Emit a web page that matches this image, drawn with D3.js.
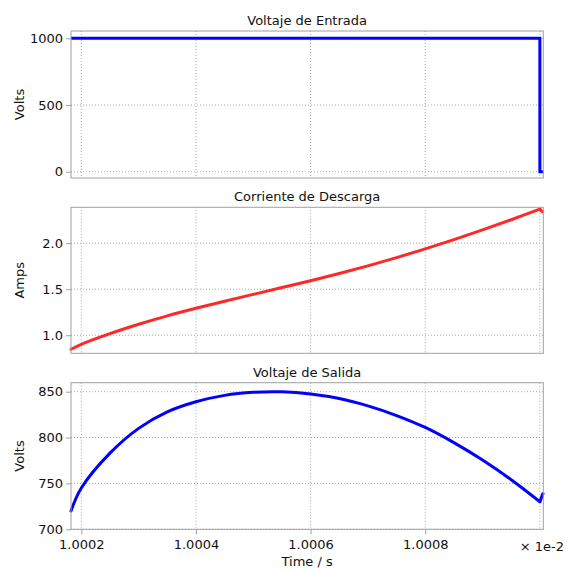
<!DOCTYPE html>
<html>
<head>
<meta charset="utf-8">
<script src="https://cdn.jsdelivr.net/npm/d3@7"></script>
<style>
  html, body { margin: 0; padding: 0; background: #fff; }
  svg { display: block; font-family: "DejaVu Sans", Verdana, sans-serif; }
</style>
</head>
<body>
<svg id="chart" width="567" height="570"></svg>
<script>
// ---- data (time in units of 1e-2 s) ----
const vinTime   = [1.000182, 1.0010, 1.0010, 1.001006];
const vinValues = [1000, 1000, 0, 0];

const time = [1.000182, 1.0002, 1.00025, 1.0003, 1.00035, 1.0004, 1.00045, 1.0005, 1.00055,
              1.0006, 1.00065, 1.0007, 1.00075, 1.0008, 1.00085, 1.0009, 1.00095, 1.0010, 1.001006];
const current = [0.848, 0.902, 1.017, 1.119, 1.211, 1.293, 1.370, 1.444, 1.518,
                 1.593, 1.671, 1.754, 1.843, 1.938, 2.039, 2.145, 2.255, 2.370, 2.33];
const vout = [720, 745, 783, 810, 828, 839, 846, 849.3, 849.8,
              847.5, 842.5, 834.5, 824, 811, 794.5, 775.5, 754, 730, 740];

const xTicks = [1.0002, 1.0004, 1.0006, 1.0008, 1.0010];
const xTickLabels = ["1.0002", "1.0004", "1.0006", "1.0008", ""];

const titles = ["Voltaje de Entrada", "Corriente de Descarga", "Voltaje de Salida"];
const yLabels = ["Volts", "Amps", "Volts"];
const yTicksList = [[0, 500, 1000], [1.0, 1.5, 2.0], [700, 750, 800, 850]];
const yDomains = [[-47, 1055], [0.804, 2.39], [700, 859.8]];

// ---- layout ----
const svg = d3.select("#chart");
const left = 71, right = 543.3;
const panels = [
  {top: 31, bottom: 178},
  {top: 207.3, bottom: 353.3},
  {top: 382.7, bottom: 529.3}
];
const x = d3.scaleLinear().domain([1.000182, 1.001006]).range([left, right]);

const series = [
  {xs: vinTime, ys: vinValues, color: "#0000ff", smooth: false, fmt: d3.format("d")},
  {xs: time, ys: current, color: "#ff2828", smooth: true, fmt: d3.format(".1f")},
  {xs: time, ys: vout, color: "#0000ff", smooth: true, fmt: d3.format("d")}
];

const gridColor = "#a8a8a8";
const frameColor = "#a0a0a0";

panels.forEach((p, i) => {
  const y = d3.scaleLinear().domain(yDomains[i]).range([p.bottom, p.top]);
  const g = svg.append("g");

  // gridlines
  g.selectAll(".vg").data(xTicks).join("line")
    .attr("x1", d => x(d)).attr("x2", d => x(d))
    .attr("y1", p.top).attr("y2", p.bottom)
    .attr("stroke", gridColor).attr("stroke-width", 1).attr("stroke-dasharray", "1,2");
  g.selectAll(".hg").data(yTicksList[i]).join("line")
    .attr("x1", left).attr("x2", right)
    .attr("y1", d => y(d)).attr("y2", d => y(d))
    .attr("stroke", gridColor).attr("stroke-width", 1).attr("stroke-dasharray", "1,2");

  // y axis
  const yAxis = d3.axisLeft(y).tickValues(yTicksList[i]).tickSize(5).tickPadding(3)
    .tickFormat(series[i].fmt);
  const ya = g.append("g").attr("transform", `translate(${left},0)`).call(yAxis);
  ya.select(".domain").remove();
  ya.selectAll(".tick line").attr("stroke", frameColor);
  ya.selectAll(".tick text").attr("font-size", 13).attr("fill", "#111")
    .attr("font-family", "DejaVu Sans, Verdana, sans-serif");

  // x axis on bottom panel
  if (i === 2) {
    const xAxis = d3.axisBottom(x).tickValues(xTicks.slice(0, 4)).tickSize(5).tickPadding(5)
      .tickFormat((d, k) => xTickLabels[k]);
    const xa = g.append("g").attr("transform", `translate(0,${p.bottom})`).call(xAxis);
    xa.select(".domain").remove();
    xa.selectAll(".tick line").attr("stroke", frameColor);
    xa.selectAll(".tick text").attr("font-size", 13).attr("fill", "#111")
      .attr("font-family", "DejaVu Sans, Verdana, sans-serif");
  }

  // data line
  const s = series[i];
  const pts = s.xs.map((d, k) => [d, s.ys[k]]);
  const lineLin = d3.line().x(d => x(d[0])).y(d => y(d[1]));
  const lineSmooth = d3.line().x(d => x(d[0])).y(d => y(d[1])).curve(d3.curveCatmullRom.alpha(0.5));
  if (s.smooth) {
    const n = pts.length;
    // smooth body, then the short final kink as a straight segment
    g.append("path").datum(pts.slice(0, n - 1))
      .attr("fill", "none").attr("stroke", s.color).attr("stroke-width", 3)
      .attr("stroke-linejoin", "round").attr("stroke-linecap", "round")
      .attr("d", lineSmooth);
    g.append("path").datum(pts.slice(n - 2))
      .attr("fill", "none").attr("stroke", s.color).attr("stroke-width", 3)
      .attr("stroke-linejoin", "round").attr("stroke-linecap", "butt")
      .attr("d", lineLin);
  } else {
    g.append("path").datum(pts)
      .attr("fill", "none").attr("stroke", s.color).attr("stroke-width", 3)
      .attr("stroke-linejoin", "miter")
      .attr("d", lineLin);
  }

  // frame
  g.append("rect").attr("x", left).attr("y", p.top)
    .attr("width", right - left).attr("height", p.bottom - p.top)
    .attr("fill", "none").attr("stroke", frameColor).attr("stroke-width", 1);

  // title
  g.append("text").attr("x", (left + right) / 2).attr("y", p.top - 6)
    .attr("text-anchor", "middle").attr("font-size", 13).attr("fill", "#111")
    .text(titles[i]);

  // y label
  g.append("text")
    .attr("transform", `translate(24,${(p.top + p.bottom) / 2}) rotate(-90)`)
    .attr("text-anchor", "middle").attr("font-size", 13).attr("fill", "#111")
    .text(yLabels[i]);
});

// x label and multiplier
svg.append("text").attr("x", (left + right) / 2).attr("y", 566)
  .attr("text-anchor", "middle").attr("font-size", 13).attr("fill", "#111")
  .text("Time / s");
svg.append("text").attr("x", 564).attr("y", 551)
  .attr("text-anchor", "end").attr("font-size", 13).attr("fill", "#111")
  .text("× 1e-2");
</script>
</body>
</html>
